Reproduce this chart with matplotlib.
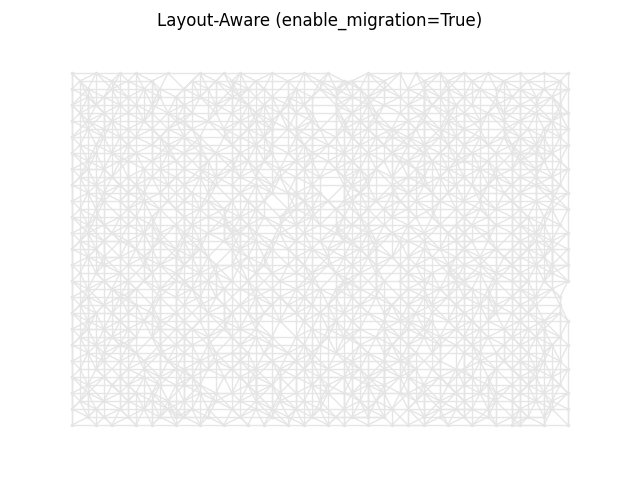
import numpy as np
import matplotlib
matplotlib.use("Agg")
import matplotlib.pyplot as plt
from matplotlib.collections import LineCollection

# '#' = occupied placement site (node), '.' = empty; one row per site row
node_map = [
    "#..#..#" ".#...#." "..#..#." "#...#.." ".#..#.." "..#...#" ".#..#.." "#..#..." "#..#..#",
    ".#...#." "#..#..." ".#..#.#" "..#...#" "...#..#" "#...#.." "..#..#." ".#...#." ".#...#.",
    "#.#..#." "..#.#.." "#..#..#" ".#.#..." "#..#.#." ".#..#.." "#.#..#." "..#.#.." "#..#..#",
    "..#.#.." "#...#.#" "..#...#" "#...#.#" "..#..#." "#.#...#" "..#.#.." "#...#.#" "..#.#..",
    "#..#..#" ".#.#..." "#...#.." ".#.#..#" ".#...#." "..#.#.." "#..#..#" ".#..#.." "#.#..#.",
    ".#..#.." "#..#.#." ".#..#.#" "..#..#." "#.#..#." "#..#..#" "..#..#." "#..#.#." "..#..##",
    "#.#..#." "..#...#" "#..#..." "#.#.#.." "..#...#" ".#.#..." "#.#..#." "..#..#." "#...#..",
    "..#.#.." "#..#.#." ".#...#." ".#..#.#" "#..#..#" "..#..#." ".#..#.." "#.#..#." ".#.#..#",
    "#...#.#" ".#..#.." "#.#..#." "#..#..." "#.#..#." "#..#.#." "#...#.#" "..#..#." "#..#.#.",
    ".#.#..." "#..#.#." "..#...#" "..#.#.." ".#..#.." ".#..#.." "#.#..#." "#..#..#" "..#...#",
    "#..#.#." ".#...#." "#.#.#.." "#...#.#" "..#...#" "..#..#." "..#.#.." ".#..#.#" "#.#.#..",
    "..#...#" "#..#..#" "...#..#" ".#.#..." "#.#.#.." "#...#.#" "#..#..#" "#..#..." "#..#.#.",
    "#.#.#.." "..#.#.." "#.#...#" "..#..#." ".#...#." ".#.#..." ".#...#." "..#.#.#" "..#...#",
    ".#...#." "#..#..#" "..#.#.." "#.#..#." "#..#..#" "..#..#." "#.#.#.." "#...#.." "#.#.#..",
    "#..#..#" ".#...#." "#...#.#" "..#.#.." "..#...#" "#.#..#." "..#...#" ".#.#..#" "..#..#.",
    "..#.#.." "#.#.#.." ".#.#..." "#...#.#" "#..#..." ".#...#." "#..#.#." "..#..#." "#...#.#",
    "#...#.#" "..#..#." "#..#..#" ".#.#..." ".#..#.#" "#..#..#" ".#..#.." "#.#...#" "..#.#..",
    ".#.#..." "#...#.#" "..#..#." "..#...#" "#.#..#." "..#.#.." "#..#..#" "..#.#.." "#...#.#",
    "#..#..#" ".#.#..." "#..#.#." "#..#.#." "..#...#" ".#...#." ".#.#..." "#..#..#" ".#.#...",
    "..#.#.." "#..#..#" ".#...#." ".#...#." "#..#.#." "#.#.#.." "#...#.#" ".#..#.." "#..#.#.",
    "#.#..#." "..#.#.." "#..#..#" "#.#..#." ".#...#." "..#..#." "..#..#." "#..#..#" "..#...#",
    ".#..#.#" "#...#.." "#.#..#." "..#.#.." "#..#..#" "#..#..#" "#.#...#" ".#.#..." "#.#.#..",
    "#..#..." ".#.#..#" "..#...#" "#...#.#" "..#.#.." ".#.#..." "..#.#.." "#...#.#" ".#..#.#",
    "..#.#.#" "..#...#" ".#.#..." ".#.#..." "#...#.#" "..#..#." "#..#..#" "..#..#." "#..#...",
    "#...#.." "#.#.#.." "#...#.#" "#..#..#" ".#..#.." "#..#..#" ".#...#." "#.#...#" "..#.#.#",
    ".#.#..#" "...#..#" "..#.#.." "..#.#.." "#.#..#." ".#.#..." "#..#.#." "..#.#.." "#...#..",
    "#...#.." "#.#...#" "#..#..#" ".#...#." "..#...#" "#...#.#" "..#...#" "#...#.#" ".#.#..#",
    "..#..#." ".#..#.." ".#...#." "#.#.#.." "#..#.#." ".#.#..." "#.#.#.." ".#.#..." "#...#..",
    "#.#...#" "#...#.#" "..#.#.." "..#..#." ".#...#." "#..#..#" "..#..#." "#..#..#" "..#..#.",
    ".#..#.." ".#.#..." "#.#..#." "#...#.#" "..#.#.." ".#...#." "#..#..#" "..#.#.." "#.#..#.",
    "#..#.#." "#..#..#" "...#..#" ".#.#..." "#..#..#" "..#.#.." ".#.#..." "#...#.#" ".#...#.",
    "..#...#" "..#.#.." "#.#..#." "..#..#." ".#...#." "#...#.#" "#..#.#." ".#.#..." "#..#..#",
    "#.#.#.." "#...#.#" ".#...#." "#.#...." "..#.#.." ".#..#.." "#.#...#" "..#..#." ".#.#...",
    ".#...#." ".#.#..." "#..#..#" "..#.#.." "#...#.#" "#..#..#" "..#.#.." "#..#..#" "..#..#.",
    "#..#..#" "#...#.#" ".#.#..." "#...#.." ".#.#..." ".#...#." "#...#.#" ".#...#." "#...#.#",
    "..#.#.." ".#..#.." "#...#.#" ".#.#..#" "..#..#." "..#.#.." ".#.#..." "#.#.#.." ".#.#...",
    "#...#.#" "..#..#." "..#.#.." "#...#.." "#.#...#" "#...#.#" "#...#.." "..#..#." "#..#.#.",
    ".#.#..." "#.#...#" "#..#..#" "..#..#." ".#..#.." ".#..#.." ".#.#..#" "#...#.#" "..#...#",
    "#...#.#" "..#.#.." ".#...#." "#.#..#." "#..#..#" "#.#...#" "#...#.." ".#.#..." "#.#.#..",
    "..#..#." "#...#.#" "#.#...." ".#..#.." "..#.#.." "..#.#.." "..#..#." "#..#..#" ".#...#.",
    "#.#...#" ".#.#..." "..#.#.#" "..#..#." "#...#.#" "#...#.#" "#.#...#" "..#.#.." "#..#..#",
    ".#..#.." "#..#.#." "#...#.." "#.#..#." ".#.#..." ".#.#..." ".#..#.." "#...#.#" "..#.#..",
    "#..#..#" "..#..#." ".#.#..#" "..#.#.." "#..#..#" "..#..#." "#...#.#" ".#.#..." "#...#.#",
    "..#.#.." "#...#.#" "#..#..." "#...#.#" "..#..#." "#.#.#.." "..#.#.." "#..#..#" ".#.#...",
    "#..#.#." ".#.#..#" "..#..#." ".#.#..#" ".#..#.#" "..#..#." "#.#..#." ".#..#.#" "#..#..#",
]

# neighbour offsets (in sites) that carry an edge
edge_offsets = [(1, 0), (2, 0), (3, 0), (4, 0), (0, 1), (0, 2), (0, 3), (0, 4),
                (1, 1), (1, -1), (2, 1), (2, -1), (1, 2), (1, -2), (2, 2), (2, -2)]

title = "Layout-Aware (enable_migration=True)"
color = "#e5e5e5"

# placement grid: origin and pitch in pixels
x0, y0, pitch = 72, 73, 8

cells = {(c, r) for r, line in enumerate(node_map) for c, ch in enumerate(line) if ch == "#"}
pos = {cell: (x0 + pitch * cell[0], y0 + pitch * cell[1]) for cell in cells}

segs = []
for (c, r) in sorted(cells):
    for dc, dr in edge_offsets:
        other = (c + dc, r + dr)
        if other in cells:
            segs.append([pos[(c, r)], pos[other]])

fig = plt.figure(figsize=(6.4, 4.8), dpi=100)
ax = fig.add_axes([0, 0, 1, 1])
ax.add_collection(LineCollection(segs, colors=color, linewidths=0.95, zorder=1))
pts = np.array(list(pos.values()))
ax.scatter(pts[:, 0], pts[:, 1], s=7, color=color, linewidths=0, zorder=2)
ax.set_xlim(0, 640)
ax.set_ylim(480, 0)
ax.axis("off")
fig.text(0.5, 1 - 21 / 480, title, ha="center", va="center", fontsize=12)

fig.savefig("out.png", dpi=100)
